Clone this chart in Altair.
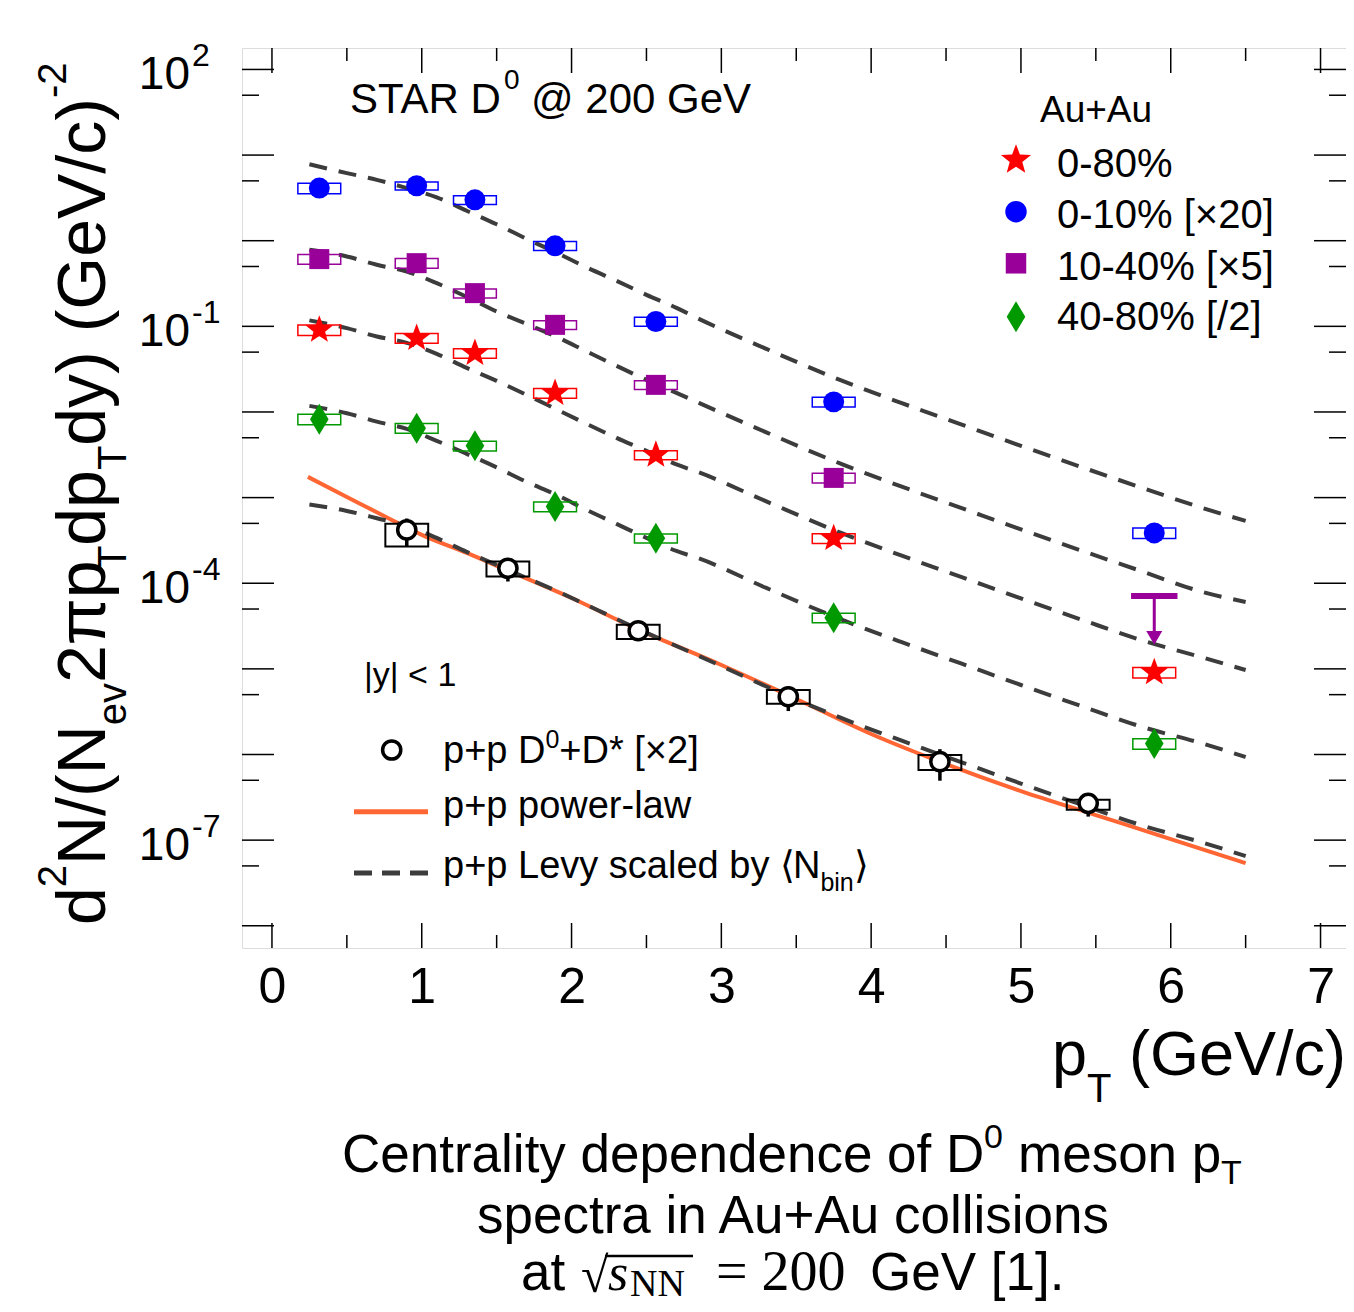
import altair as alt
import pandas as pd

FONT = "Liberation Sans"
SERIF = "Liberation Serif"
W, H = 1104, 900          # plot area
OX, OY = 242, 48          # plot origin on the page (for annotation placement)

BLUE, PURPLE, RED, GREEN = "#0000ff", "#990099", "#ff0000", "#009900"
ORANGE, DASH = "#ff6633", "#3c3c3c"

# ---------------- data ----------------
# p+p Levy fit scaled by <Nbin> (dashed curves)
curve_pt = [0.25, 0.5, 0.7, 0.9, 1.1, 1.3, 1.5, 1.7, 1.9, 2.1, 2.3, 2.5, 2.7, 2.85,
            3.3, 3.8, 4.2, 4.6, 5.0, 5.4, 5.8, 6.2, 6.5]
levy_0_10 = [7.81, 6.16, 5.14, 4.12, 3.21, 2.235, 1.555, 1.052, 0.722, 0.489, 0.340, 0.2333,
             0.1644, 0.1224, 0.0546, 0.02339, 0.01277, 0.00716, 0.00402, 0.002284, 0.001316,
             0.000768, 0.000534]
levy_10_40 = [0.783, 0.6535, 0.5231, 0.4367, 0.3196, 0.2211, 0.1489, 0.1064, 0.0754, 0.0510,
              0.0346, 0.0237, 0.01671, 0.01277, 0.005778, 0.002476, 0.001351, 0.000758,
              0.000425, 0.0002416, 0.0001392, 0.0000802, 0.0000605]
levy_0_80 = [0.1175, 0.0953, 0.0760, 0.0642, 0.0477, 0.0327, 0.0231, 0.01584, 0.01072, 0.00726,
             0.00498, 0.00351, 0.00244, 0.00197, 0.000903, 0.000387, 0.0002112, 0.0001185,
             0.0000664, 0.0000378, 0.00002176, 0.00001377, 0.0000097]
levy_40_80 = [0.01178, 0.00968, 0.00772, 0.00635, 0.00460, 0.00324, 0.002253, 0.001526,
              0.001075, 0.000718, 0.000493, 0.000338, 0.000238, 0.000195, 0.0000881,
              0.0000378, 0.0000206, 0.00001156, 0.00000648, 0.00000369, 0.000002124,
              0.000001363, 0.000000935]
levy_pp = [0.000833, 0.000699, 0.000575, 0.000467, 0.000338, 0.000232, 0.0001636, 0.0001153,
           0.0000813, 0.0000558, 0.0000383, 0.0000263, 0.0000185, 0.00001415, 0.00000623,
           0.00000267, 0.000001458, 8.17e-7, 4.58e-7, 2.605e-7, 1.501e-7, 9.50e-8, 6.52e-8]

# p+p power-law fit (orange)
power_pt = [0.24, 0.5, 0.8, 1.0, 1.3, 1.55, 2.0, 2.45, 3.0, 3.5, 4.0, 4.5, 5.0, 5.5, 6.0, 6.5]
power_val = [0.001745, 0.001019, 0.000549, 0.000367, 0.000226, 0.0001469, 0.0000673,
             0.0000285, 0.0000111, 0.00000445, 0.000001736, 7.74e-7, 3.745e-7, 1.964e-7,
             1.030e-7, 5.40e-8]

# Au+Au data points
auau_pt = [0.316, 0.966, 1.355, 1.89, 2.563, 3.75, 5.89]
val_0_80 = [0.0910, 0.0728, 0.0486, 0.01658, 0.003155, 0.000335, 0.0000091]
sys_0_80 = [0.14, 0.13, 0.13, 0.13, 0.12, 0.13, 0.14]
val_0_10 = [4.12, 4.38, 3.00, 0.872, 0.1138, 0.01312, 0.000387]
sys_0_10 = [0.14, 0.11, 0.12, 0.12, 0.12, 0.13, 0.14]
val_10_40 = [0.610, 0.547, 0.2443, 0.1041, 0.02073, 0.001699]
sys_10_40 = [0.13, 0.13, 0.12, 0.12, 0.12, 0.13]
val_40_80 = [0.00824, 0.00647, 0.00402, 0.000785, 0.000335, 0.0000396, 0.00000134]
sys_40_80 = [0.14, 0.13, 0.13, 0.13, 0.12, 0.13, 0.14]
# 10-40% upper limit at the last bin
ul_pt = [5.89]
ul_val = [7.1e-5]
ul_arrow_end = [2.3e-5]

# p+p D0+D* [x2]
pp_pt = [0.90, 1.575, 2.445, 3.447, 4.459, 5.449]
pp_val = [0.000419, 0.0001497, 0.0000279, 0.00000473, 8.24e-7, 2.69e-7]
pp_sys_lo = [0.36, 0.20, 0.20, 0.17, 0.20, 0.16]
pp_sys_hi = [0.18, 0.20, 0.17, 0.20, 0.20, 0.10]
pp_stat = [0.36, 0.30, 0.20, 0.32, 0.40, 0.30]

# axes
x_major = [0, 1, 2, 3, 4, 5, 6, 7]
x_minor = [0.5, 1.5, 2.5, 3.5, 4.5, 5.5, 6.5]
y_major = [100, 10, 1, 0.1, 0.01, 1e-3, 1e-4, 1e-5, 1e-6, 1e-7, 1e-8]
y_minor = [50, 5, 0.5, 0.05, 0.005, 5e-4, 5e-5, 5e-6, 5e-7, 5e-8]
y_label_val = [100, 0.1, 1e-4, 1e-7]
y_label_exp = ["2", "-1", "-4", "-7"]

# ---------------- marker shapes / sizes ----------------
STAR = ("M0,-1L0.247,-0.34L0.951,-0.309L0.399,0.13L0.588,0.809L0,0.42L-0.588,0.809"
        "L-0.399,0.13L-0.951,-0.309L-0.247,-0.34Z")
DIAMOND = "M0,-1L0.6,0L0,1L-0.6,0Z"
BOXW = 0.143

xsc = alt.Scale(domain=[-0.2, 7.17], nice=False, zero=False)
ysc = alt.Scale(type="log", domain=[5.5e-9, 178], nice=False)
xax = alt.Axis(values=x_major, format="d", labelFont=FONT, labelFontSize=50,
               labelColor="black", ticks=False, domain=False, grid=False,
               labelPadding=14, title=None, labelFlush=False)


def X(f):
    return alt.X(f"{f}:Q", scale=xsc, axis=xax)


def Y(f):
    return alt.Y(f"{f}:Q", scale=ysc, axis=None)


def series_df(pt, val, lo, hi):
    return pd.DataFrame({
        "pt": pt, "val": val,
        "lo": [v * (1 - a) for v, a in zip(val, lo)],
        "hi": [v * (1 + b) for v, b in zip(val, hi)],
        "xl": [p - BOXW for p in pt], "xr": [p + BOXW for p in pt],
    })


layers = []

# ---- inward ticks on all four sides ----
tk = dict(color="black", strokeWidth=1.5)
dxM = pd.DataFrame({"v": x_major})
dxm = pd.DataFrame({"v": x_minor})
dyM = pd.DataFrame({"v": y_major})
dym = pd.DataFrame({"v": y_minor})
layers += [
    alt.Chart(dxM).mark_rule(**tk).encode(x=X("v"), y=alt.value(H), y2=alt.value(H - 25)),
    alt.Chart(dxM).mark_rule(**tk).encode(x=X("v"), y=alt.value(0), y2=alt.value(25)),
    alt.Chart(dxm).mark_rule(**tk).encode(x=X("v"), y=alt.value(H), y2=alt.value(H - 13)),
    alt.Chart(dxm).mark_rule(**tk).encode(x=X("v"), y=alt.value(0), y2=alt.value(13)),
    alt.Chart(dyM).mark_rule(**tk).encode(y=Y("v"), x=alt.value(0), x2=alt.value(32)),
    alt.Chart(dyM).mark_rule(**tk).encode(y=Y("v"), x=alt.value(W), x2=alt.value(W - 32)),
    alt.Chart(dym).mark_rule(**tk).encode(y=Y("v"), x=alt.value(0), x2=alt.value(17)),
    alt.Chart(dym).mark_rule(**tk).encode(y=Y("v"), x=alt.value(W), x2=alt.value(W - 17)),
]

# ---- y tick labels 10^n ----
dyl = pd.DataFrame({"v": y_label_val, "e": y_label_exp})
layers += [
    alt.Chart(dyl).mark_text(text="10", align="right", baseline="alphabetic", font=FONT,
                             fontSize=46, color="black", dy=20).encode(
        x=alt.value(-52), y=Y("v")),
    alt.Chart(dyl).mark_text(align="left", baseline="alphabetic", font=FONT,
                             fontSize=32, color="black", dy=-3).encode(
        x=alt.value(-50), y=Y("v"), text="e:N"),
]

# ---- curves ----
power_df = pd.DataFrame({"pt": power_pt, "val": power_val})
crow = []
for name, vals in [("0-10", levy_0_10), ("10-40", levy_10_40), ("0-80", levy_0_80),
                   ("40-80", levy_40_80), ("pp", levy_pp)]:
    for p, v in zip(curve_pt, vals):
        crow.append({"pt": p, "val": v, "s": name})
curves = pd.DataFrame(crow)
layers += [
    alt.Chart(power_df).mark_line(color=ORANGE, strokeWidth=4, interpolate="monotone").encode(
        x=X("pt"), y=Y("val")),
    alt.Chart(curves).mark_line(color=DASH, strokeWidth=4, strokeDash=[18, 12],
                                interpolate="monotone").encode(
        x=X("pt"), y=Y("val"), detail="s:N"),
]

# ---- p+p points ----
ppdf = series_df(pp_pt, pp_val, pp_sys_lo, pp_sys_hi)
ppdf["slo"] = [v * (1 - s) for v, s in zip(pp_val, pp_stat)]
ppdf["shi"] = [v * (1 + s) for v, s in zip(pp_val, pp_stat)]
layers += [
    alt.Chart(ppdf).mark_rule(color="black", strokeWidth=3.5).encode(
        x=X("pt"), y=Y("slo"), y2=alt.Y2("shi")),
    alt.Chart(ppdf).mark_rect(fillOpacity=0, stroke="black", strokeWidth=2).encode(
        x=X("xl"), x2=alt.X2("xr"), y=Y("lo"), y2=alt.Y2("hi")),
    alt.Chart(ppdf).mark_point(shape="circle", filled=True, fill="white", stroke="black",
                               strokeWidth=3.5, size=330, opacity=1).encode(x=X("pt"), y=Y("val")),
]

# ---- Au+Au points ----
auau = [
    (auau_pt, val_0_10, sys_0_10, BLUE, "circle", 440),
    (auau_pt[:6], val_10_40, sys_10_40, PURPLE, "square", 400),
    (auau_pt, val_0_80, sys_0_80, RED, STAR, 850),
    (auau_pt, val_40_80, sys_40_80, GREEN, DIAMOND, 960),
]
for pt, val, sy, col, shp, sz in auau:
    d = series_df(pt, val, sy, sy)
    layers += [
        alt.Chart(d).mark_rect(fillOpacity=0, stroke=col, strokeWidth=1.5).encode(
            x=X("xl"), x2=alt.X2("xr"), y=Y("lo"), y2=alt.Y2("hi")),
        alt.Chart(d).mark_point(shape=shp, filled=True, color=col, size=sz, opacity=1).encode(
            x=X("pt"), y=Y("val")),
    ]

# ---- 10-40% upper limit ----
uldf = pd.DataFrame({"pt": ul_pt, "val": ul_val, "tip": ul_arrow_end,
                     "xl": [p - 0.155 for p in ul_pt], "xr": [p + 0.155 for p in ul_pt]})
layers += [
    alt.Chart(uldf).mark_rule(color=PURPLE, strokeWidth=6).encode(
        x=X("xl"), x2=alt.X2("xr"), y=Y("val")),
    alt.Chart(uldf).mark_rule(color=PURPLE, strokeWidth=3).encode(
        x=X("pt"), y=Y("val"), y2=alt.Y2("tip")),
    alt.Chart(uldf).mark_point(shape="triangle-down", filled=True, color=PURPLE, size=256,
                               opacity=1).encode(x=X("pt"), y=Y("tip")),
]

# ---------------- annotations ----------------
dummy = pd.DataFrame({"d": [0]})


def label(text, x, y, size, font=FONT, align="left", angle=None, style=None):
    kw = dict(text=text, align=align, baseline="alphabetic", fontSize=size, font=font,
              color="black")
    if angle is not None:
        kw["angle"] = angle
    if style is not None:
        kw["fontStyle"] = style
    return alt.Chart(dummy).mark_text(**kw).encode(x=alt.value(x - OX), y=alt.value(y - OY))


def sym(shape, x, y, size, color):
    return alt.Chart(dummy).mark_point(shape=shape, filled=True, color=color, size=size,
                                       opacity=1).encode(
        x=alt.value(x - OX), y=alt.value(y - OY))


# y-axis title, rotated pieces (bottom to top)
MB, SUPB, SUBB = 105, 66, 126
layers += [
    label("d", MB, 925, 68, angle=270),
    label("2", SUPB, 887.2, 40, angle=270),
    label("N/(N", MB, 865.0, 68, angle=270),
    label("ev", SUBB, 725.3, 40, angle=270),
    label("2πp", MB, 683.1, 68, angle=270),
    label("T", SUBB, 570.1, 40, angle=270),
    label("dp", MB, 545.7, 68, angle=270),
    label("T", SUBB, 470.1, 40, angle=270),
    label("dy) (GeV/c)", MB, 445.7, 68, angle=270),
    label("-2", SUPB, 98.0, 40, angle=270),
]

# x-axis title
layers += [
    label("p", 1052, 1075, 63),
    label("T", 1087, 1102, 40),
    label("(GeV/c)", 1129, 1075, 63),
]

# STAR label
layers += [
    label("STAR D", 350, 113, 42),
    label("0", 504, 89, 28),
    label("@ 200 GeV", 531, 113, 42),
]

# Au+Au legend
layers += [label("Au+Au", 1040, 121.7, 37)]
leg = [("0-80%", STAR, RED, 1000, 160, 176.7),
       ("0-10% [×20]", "circle", BLUE, 460, 211.7, 228),
       ("10-40% [×5]", "square", PURPLE, 420, 263.3, 280),
       ("40-80% [/2]", DIAMOND, GREEN, 960, 316.7, 330)]
for txt, shp, col, sz, ysym, ytxt in leg:
    layers += [sym(shp, 1016, ysym, sz, col), label(txt, 1057, ytxt, 40)]

# p+p legend
layers += [
    label("|y| < 1", 364, 686, 34),
    alt.Chart(dummy).mark_point(shape="circle", filled=True, fill="white", stroke="black",
                                strokeWidth=3.5, size=330, opacity=1).encode(
        x=alt.value(391.7 - OX), y=alt.value(750 - OY)),
    label("p+p D", 443, 763, 38),
    label("0", 545.4, 748, 25),
    label("+D* [×2]", 559.3, 763, 38),
    alt.Chart(dummy).mark_rule(color=ORANGE, strokeWidth=5).encode(
        x=alt.value(354 - OX), x2=alt.value(428 - OX), y=alt.value(811.7 - OY)),
    label("p+p power-law", 443, 818, 38),
    alt.Chart(dummy).mark_rule(color=DASH, strokeWidth=5, strokeDash=[18, 10]).encode(
        x=alt.value(354 - OX), x2=alt.value(428 - OX), y=alt.value(873 - OY)),
    label("p+p Levy scaled by", 443, 878, 38),
    label("⟨", 780, 878, 38),
    label("N", 793, 878, 38),
    label("bin", 820.4, 891, 25),
    label("⟩", 853.8, 878, 38),
]

# caption
layers += [
    label("Centrality dependence of D", 342, 1172, 53),
    label("0", 984, 1148, 34),
    label("meson p", 1018, 1172, 53),
    label("T", 1221, 1184, 34),
    label("spectra in Au+Au collisions", 793, 1233, 53, align="center"),
    label("at", 521, 1290, 53),
    label("√", 581, 1292, 50, font=SERIF),
    alt.Chart(dummy).mark_rule(color="black", strokeWidth=2.5).encode(
        x=alt.value(605 - OX), x2=alt.value(693 - OX), y=alt.value(1256 - OY)),
    label("s", 608, 1290, 52, font=SERIF, style="italic"),
    label("NN", 630, 1296, 38, font=SERIF),
    label("= 200", 716, 1290, 56, font=SERIF),
    label("GeV [1].", 870, 1290, 53),
]

chart = alt.layer(*layers).properties(
    width=W, height=H,
    padding={"left": 234, "top": 40, "right": 0, "bottom": 356},
    autosize=alt.AutoSizeParams(type="none"),
).configure_view(stroke="black", strokeWidth=2).configure(background="white")

chart.save("out.html", embed_options={"renderer": "svg", "actions": False})
